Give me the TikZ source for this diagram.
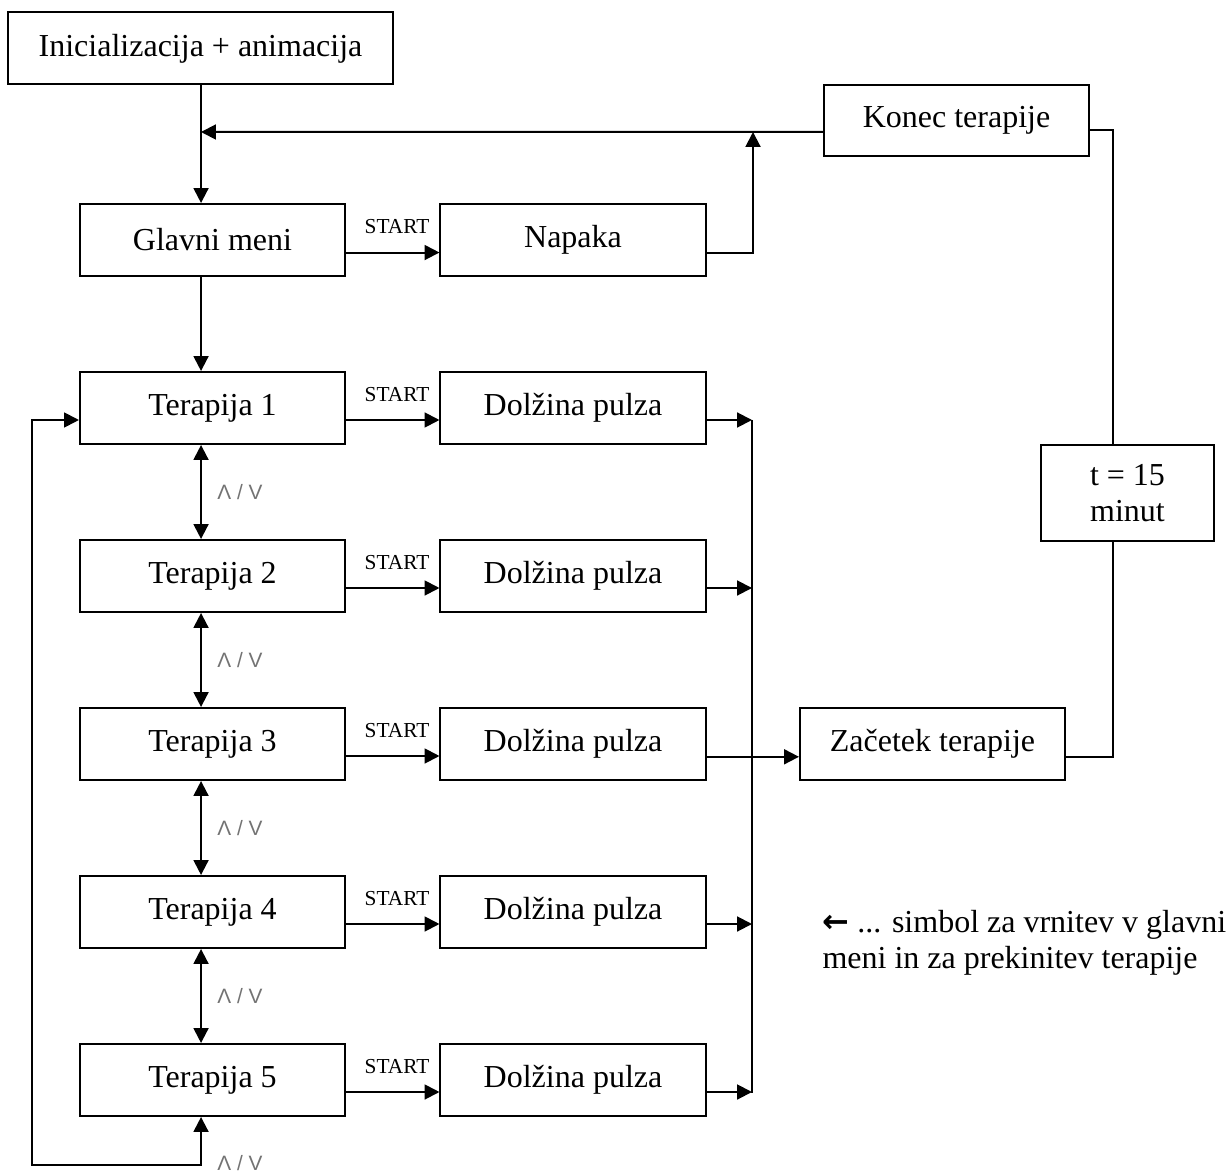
\documentclass[tikz,border=0pt]{standalone}
\usepackage{fontspec}
\setmainfont{Liberation Serif}
\newfontfamily\djv{DejaVu Sans}
\newfontfamily\lsans{Liberation Sans}
\usetikzlibrary{arrows.meta}
\begin{document}
\begin{tikzpicture}[x=0.375pt,y=-0.375pt,
  lw/.style={line width=0.75pt},
  box/.style={draw,lw,rectangle,inner sep=0pt,minimum width=99.4pt,minimum height=27pt,font=\fontsize{12}{13.8}\selectfont,align=center},
  arr/.style={lw,-{Triangle[length=5.6pt,width=5.6pt]}},
  darr/.style={lw,{Triangle[length=5.6pt,width=5.6pt]}-{Triangle[length=5.6pt,width=5.6pt]}},
  conn/.style={lw},
  startlbl/.style={font=\fontsize{8}{9}\selectfont,inner sep=0pt},
  updown/.style={font=\lsans\fontsize{7.8}{9}\selectfont,text=black!55,inner sep=0pt},
  legend/.style={font=\fontsize{12}{13.8}\selectfont,inner sep=0pt,anchor=base west}]
\useasboundingbox (0,0) rectangle (1229,1171);

\node[box,minimum width=144.4pt] (init) at (200.5,48.5) {Inicializacija + animacija};
\node[box] (glavni) at (212.5,240) {Glavni meni};
\node[box] (napaka) at (573,240) {Napaka};
\node[box,minimum height=26.6pt] (konec) at (956.5,120.5) {Konec terapije};
\node[box,minimum width=64.9pt,minimum height=36pt] (tmin) at (1127.5,493) {t = 15\\minut};
\node[box] (zac) at (932.5,744) {Začetek terapije};

\foreach \k in {1,...,5}{
  \pgfmathsetmacro{\yy}{408+168*(\k-1)}
  \node[box] (t\k) at (212.5,\yy) {Terapija \k};
  \node[box] (d\k) at (573,\yy) {Dolžina pulza};
  \node[startlbl] (s\k) at (397,\yy-13) {START};
}
\node[startlbl] (s0) at (397,227) {START};

% init -> glavni
\coordinate (m) at (201,132);
\draw[arr] ([xshift=-4.3pt]glavni.north |- init.south) -- ([xshift=-4.3pt]glavni.north);
\draw[arr] ([yshift=-4.3pt]konec.west) -- (m);
\draw[arr] ([yshift=-4.7pt]glavni.east) -- ([yshift=-4.7pt]napaka.west);
\coordinate (n) at (753,132);
\draw[arr] ([yshift=-4.7pt]napaka.east) -| (n);
\draw[conn] ([yshift=-3.6pt]konec.east) -| ([xshift=-5.4pt]tmin.north);
\draw[conn] ([yshift=-4.8pt]zac.east) -| ([xshift=-5.4pt]tmin.south);

% glavni -> terapija 1
\draw[arr] ([xshift=-4.3pt]glavni.south) -- ([xshift=-4.3pt]t1.north);

% terapija rows
\foreach \k in {1,...,5}{
  \draw[arr] ([yshift=-4.5pt]t\k.east) -- ([yshift=-4.5pt]d\k.west);
}
\coordinate (bt) at (752,420);
\coordinate (bb) at (752,1093);
\draw[conn] (bt) -- (bb);
\foreach \k in {1,2,4,5}{
  \draw[arr] ([yshift=-4.5pt]d\k.east) -- ([yshift=-4.5pt]d\k.east -| bt);
}
\draw[arr] ([yshift=-4.8pt]d3.east) -- ([yshift=-4.8pt]zac.west);

\foreach \k/\j in {1/2,2/3,3/4,4/5}{
  \draw[darr] ([xshift=-4.3pt]t\k.south) -- ([xshift=-4.3pt]t\j.north);
  \node[updown] at (240,{492+168*(\k-1)}) {Λ / V};
}
% bottom loop
\coordinate (lc) at (32,1165);
\draw[darr] ([xshift=-4.3pt]t5.south) -- ([xshift=-4.3pt]t5.south |- lc) -| (32,420) -- ([yshift=-4.5pt]t1.west);
\node[updown] at (240,1163) {Λ / V};

% legend
\node[legend] (lg1) at (822,932) {{\djv\bfseries ←} ... simbol za vrnitev v glavni};
\node[legend] (lg2) at (822,968) {meni in za prekinitev terapije};
\end{tikzpicture}
\end{document}
